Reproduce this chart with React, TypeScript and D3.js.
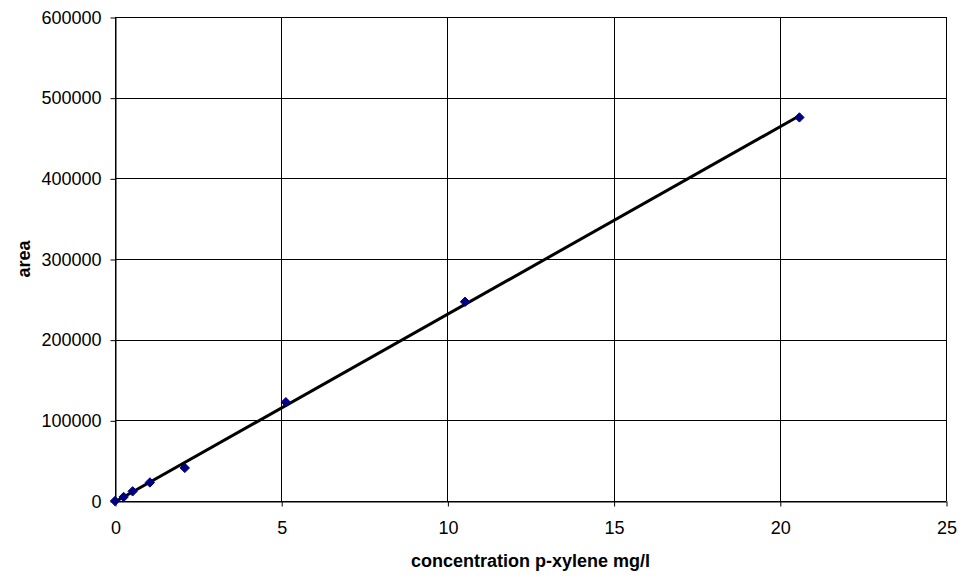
import React, { useRef, useEffect } from "react";
import * as d3 from "d3";

const concentration = [0, 0.26, 0.53, 1.05, 2.1, 5.14, 10.53, 20.59];
const area = [0, 5000, 12000, 23000, 41000, 122500, 247000, 475500];
const xTicks = [0, 5, 10, 15, 20, 25];
const yTicks = [0, 100000, 200000, 300000, 400000, 500000, 600000];

const width = 969;
const height = 579;
const margin = { top: 17, right: 23, bottom: 78, left: 115 };

const App = () => {
  const ref = useRef<SVGSVGElement>(null);

  useEffect(() => {
    if (!ref.current) return;
    const svg = d3.select(ref.current);
    svg.selectAll("*").remove();

    const x = d3.scaleLinear().domain([0, 25]).range([margin.left, width - margin.right]);
    const y = d3.scaleLinear().domain([0, 600000]).range([height - margin.bottom, margin.top]);
    const font = "'Liberation Sans', Arial, sans-serif";

    // grid lines
    svg.append("g")
      .selectAll("line")
      .data(yTicks)
      .enter()
      .append("line")
      .attr("x1", x(0)).attr("x2", x(25))
      .attr("y1", (d) => Math.round(y(d)) + 0.5).attr("y2", (d) => Math.round(y(d)) + 0.5)
      .attr("stroke", "#000").attr("stroke-width", 1);
    svg.append("g")
      .selectAll("line")
      .data(xTicks)
      .enter()
      .append("line")
      .attr("x1", (d) => Math.round(x(d)) + 0.5).attr("x2", (d) => Math.round(x(d)) + 0.5)
      .attr("y1", y(600000)).attr("y2", y(0))
      .attr("stroke", "#000").attr("stroke-width", 1);

    // axes
    const xAxis = svg.append("g")
      .attr("transform", `translate(0.5,${Math.round(y(0)) + 0.5})`)
      .call(d3.axisBottom(x).tickValues(xTicks).tickSize(5).tickPadding(15).tickSizeOuter(0));
    const yAxis = svg.append("g")
      .attr("transform", `translate(${Math.round(x(0)) + 0.5},0.5)`)
      .call(d3.axisLeft(y).tickValues(yTicks).tickSize(5).tickPadding(9).tickSizeOuter(0).tickFormat(d3.format("d")));
    [xAxis, yAxis].forEach((g) => {
      g.select(".domain").attr("stroke", "#000");
      g.selectAll("line").attr("stroke", "#000");
      g.selectAll("text").attr("font-family", font).attr("font-size", 18).attr("fill", "#000");
    });

    // linear trend line (least squares)
    const mx = d3.mean(concentration) ?? 0;
    const my = d3.mean(area) ?? 0;
    const sxy = d3.sum(concentration, (c, i) => (c - mx) * (area[i] - my));
    const sxx = d3.sum(concentration, (c) => (c - mx) ** 2);
    const slope = sxy / sxx;
    const intercept = my - slope * mx;
    const x0 = Math.max(0, -intercept / slope);
    const x1 = d3.max(concentration) ?? 0;
    svg.append("line")
      .attr("x1", x(x0)).attr("y1", y(slope * x0 + intercept))
      .attr("x2", x(x1)).attr("y2", y(slope * x1 + intercept))
      .attr("stroke", "#000").attr("stroke-width", 3);

    // markers
    const diamond = d3.symbol().type(d3.symbolDiamond2).size(56);
    svg.append("g")
      .selectAll("path")
      .data(concentration)
      .enter()
      .append("path")
      .attr("d", diamond)
      .attr("transform", (d, i) => `translate(${x(d)},${y(area[i])})`)
      .attr("fill", "#000080")
      .attr("stroke", "#000080")
      .attr("stroke-width", 1);

    // titles
    svg.append("text")
      .attr("x", (x(0) + x(25)) / 2)
      .attr("y", 567)
      .attr("text-anchor", "middle")
      .attr("font-family", font).attr("font-size", 18).attr("font-weight", "bold")
      .text("concentration p-xylene mg/l");
    svg.append("text")
      .attr("transform", `translate(30,${(y(0) + y(600000)) / 2}) rotate(-90)`)
      .attr("text-anchor", "middle")
      .attr("font-family", font).attr("font-size", 18).attr("font-weight", "bold")
      .text("area");
  }, []);

  return (
    <svg
      ref={ref}
      width={width}
      height={height}
      style={{ position: "absolute", left: 0, top: 0, background: "#fff" }}
    />
  );
};

export default App;
